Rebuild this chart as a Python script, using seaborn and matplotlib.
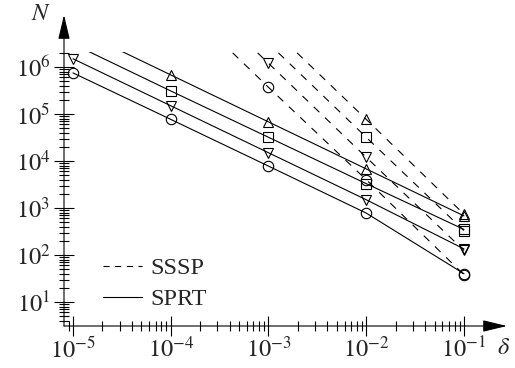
import matplotlib
matplotlib.use("Agg")
import matplotlib.pyplot as plt
from matplotlib.lines import Line2D
from matplotlib.ticker import LogLocator, NullFormatter, FuncFormatter
import numpy as np
import seaborn as sns

# Sample sizes N versus error level delta for four parameter settings
delta_sprt = [1e-5, 1e-4, 1e-3, 1e-2, 1e-1]
sprt_up = [6.8e6, 6.8e5, 6.8e4, 6.8e3, 680]
sprt_sq = [3.1e6, 3.1e5, 3.2e4, 3.3e3, 350]
sprt_dn = [1.5e6, 1.5e5, 1.5e4, 1.5e3, 135]
sprt_ci = [7.5e5, 7.7e4, 7.8e3, 780, 40]

delta_sssp = [1e-4, 1e-3, 1e-2, 1e-1]
sssp_up = [7.7e8, 7.7e6, 7.7e4, 740]
sssp_sq = [3.2e8, 3.2e6, 3.2e4, 330]
sssp_dn = [1.2e8, 1.2e6, 1.2e4, 125]
sssp_ci = [3.7e7, 3.7e5, 4.0e3, 38]

x_ticks = [1e-5, 1e-4, 1e-3, 1e-2, 1e-1]
y_ticks = [1e1, 1e2, 1e3, 1e4, 1e5, 1e6]
markers = ["^", "s", "v", "o"]
legend_labels = ["SSSP", "SPRT"]
x_label = r"$\delta$"
y_label = r"$N$"

sns.set_style("white")
plt.rcParams["font.family"] = ["Liberation Serif", "DejaVu Serif"]
plt.rcParams["mathtext.fontset"] = "stix"

FS = 17.5
LW = 0.8
DASH = (0, (7, 7))

fig = plt.figure(figsize=(5.15, 3.68), dpi=100)
W, H = 515, 368
XL = (-5.092, -0.88)
YL = (0.49, 6.312)
PX_X, PX_Y = 97.75, 47.0
x0, y0 = 64, 326
x1 = x0 + (XL[1] - XL[0]) * PX_X
y1 = y0 - (YL[1] - YL[0]) * PX_Y
ax = fig.add_axes([x0 / W, (H - y0) / H, (x1 - x0) / W, (y0 - y1) / H])
ax.set_xscale("log")
ax.set_yscale("log")

common = dict(ax=ax, color="k", lw=LW, ms=7.5, mfc="none", mec="k", mew=LW,
              errorbar=None)

for vals, m in zip([sssp_up, sssp_sq, sssp_dn, sssp_ci], markers):
    sns.lineplot(x=delta_sssp, y=vals, marker=m, linestyle=DASH, **common)
for vals, m in zip([sprt_up, sprt_sq, sprt_dn, sprt_ci], markers):
    sns.lineplot(x=delta_sprt, y=vals, marker=m, linestyle="-", **common)

# axes drawn as arrows, ticks crossing the axis lines
for s in ax.spines.values():
    s.set_visible(False)
arrow = dict(arrowstyle="-|>,head_length=1.0,head_width=0.24", color="k",
             lw=LW, shrinkA=0, shrinkB=0, mutation_scale=15)
ax.annotate("", xy=((507 - x0) / (x1 - x0), 0), xytext=(0, 0),
            xycoords="axes fraction", textcoords="axes fraction",
            arrowprops=arrow, annotation_clip=False)
ax.annotate("", xy=(0, (y0 - 15) / (y0 - y1)), xytext=(0, 0),
            xycoords="axes fraction", textcoords="axes fraction",
            arrowprops=arrow, annotation_clip=False)

pow_fmt = FuncFormatter(lambda v, pos: r"$10^{%d}$" % round(np.log10(v)))
for axis in (ax.xaxis, ax.yaxis):
    axis.set_minor_locator(LogLocator(base=10, subs=range(2, 10), numticks=200))
    axis.set_minor_formatter(NullFormatter())
ax.set_xticks(x_ticks)
ax.set_yticks(y_ticks)
ax.xaxis.set_major_formatter(pow_fmt)
ax.yaxis.set_major_formatter(pow_fmt)
ax.tick_params(which="both", direction="inout", color="k", width=LW,
               bottom=True, left=True, top=False, right=False)
ax.tick_params(which="major", length=13.7, labelsize=FS)
ax.tick_params(which="minor", length=7.2)
ax.tick_params(axis="x", which="major", pad=1.0)
ax.tick_params(axis="y", which="major", pad=3.0)
ax.set_xlim(10 ** XL[0], 10 ** XL[1])
ax.set_ylim(10 ** YL[0], 10 ** YL[1])
ax.grid(False)

fig.text(41 / W, 1 - 14 / H, y_label, fontsize=FS, ha="center", va="center")
fig.text(504 / W, 1 - 349 / H, x_label, fontsize=FS, ha="center", va="center")

handles = [Line2D([], [], color="k", lw=LW, linestyle=(0, (5.5, 5))),
           Line2D([], [], color="k", lw=LW, linestyle="-")]
ax.legend(handles, legend_labels, loc="upper left",
          bbox_to_anchor=((103 - x0) / (x1 - x0), (y0 - 257) / (y0 - y1)),
          frameon=False, fontsize=FS, handlelength=1.6, handletextpad=0.33,
          borderpad=0, borderaxespad=0, labelspacing=0.38)

fig.savefig("out.png", dpi=100)
